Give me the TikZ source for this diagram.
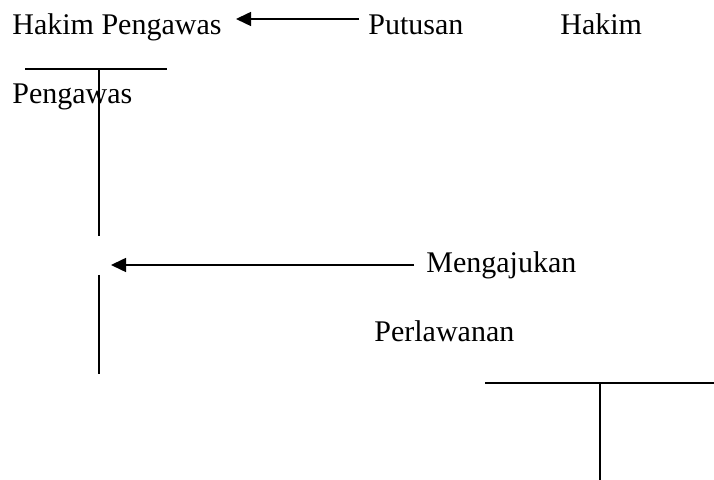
\documentclass[tikz,border=0pt]{standalone}
\usepackage{fontspec}
\setmainfont{Liberation Serif}
\usetikzlibrary{arrows.meta}
\begin{document}
\begin{tikzpicture}[x=0.5pt,y=-0.5pt,
  lbl/.style={anchor=base west,inner sep=0pt,font=\fontsize{15}{18}\selectfont},
  rule/.style={line width=0.75pt},
  pointer/.style={rule,-{Triangle[length=7.5pt,width=7pt]}}]
\useasboundingbox (0,0) rectangle (714,480);

% labels
\node[lbl] (hp)   at (12,35)  {Hakim Pengawas};
\node[lbl] (put)  at (368,35) {Putusan};
\node[lbl] (hak)  at (560,35) {Hakim};
\node[lbl] (peng) at (12,104) {Pengawas};
\node[lbl] (meng) at (426,273) {Mengajukan};
\node[lbl] (perl) at (374,342) {Perlawanan};

% end points of the rules and arrows
\coordinate (a1s) at (359,19);
\coordinate (a1e) at (236,19);
\coordinate (a2s) at (414,265);
\coordinate (a2e) at (111,265);
\coordinate (t1l) at (25,69);
\coordinate (t1r) at (167,69);
\coordinate (t1m) at (99,69);
\coordinate (t1b) at (99,236);
\coordinate (v2t) at (99,275);
\coordinate (v2b) at (99,374);
\coordinate (t2l) at (485,383);
\coordinate (t2r) at (714,383);
\coordinate (t2m) at (600,383);
\coordinate (t2b) at (600,480);

% arrows
\draw[pointer] (a1s) -- (a1e);
\draw[pointer] (a2s) -- (a2e);

% T-shaped rules
\draw[rule] (t1l) -- (t1r);
\draw[rule] (t1m) -- (t1b);
\draw[rule] (v2t) -- (v2b);
\draw[rule] (t2l) -- (t2r);
\draw[rule] (t2m) -- (t2b);
\end{tikzpicture}
\end{document}
